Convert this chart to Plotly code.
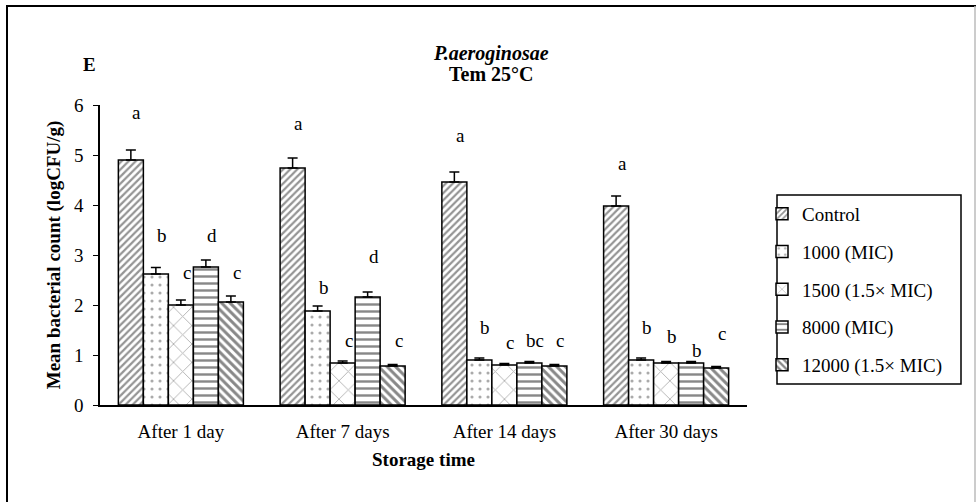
import plotly.graph_objects as go

categories = ["After 1 day", "After 7 days", "After 14 days", "After 30 days"]
series_names = ["Control", "1000 (MIC)", "1500 (1.5× MIC)", "8000 (MIC)", "12000 (1.5× MIC)"]

control = [4.90, 4.74, 4.46, 3.98]
mic1000 = [2.62, 1.88, 0.90, 0.90]
mic1500 = [2.00, 0.84, 0.80, 0.84]
mic8000 = [2.76, 2.16, 0.84, 0.84]
mic12000 = [2.06, 0.78, 0.78, 0.74]

err_control = [0.20, 0.20, 0.20, 0.20]
err_1000 = [0.13, 0.10, 0.04, 0.04]
err_1500 = [0.10, 0.04, 0.03, 0.03]
err_8000 = [0.14, 0.10, 0.03, 0.03]
err_12000 = [0.12, 0.03, 0.03, 0.03]

letters_control = ["a", "a", "a", "a"]
letters_1000 = ["b", "b", "b", "b"]
letters_1500 = ["c", "c", "c", "b"]
letters_8000 = ["d", "d", "bc", "b"]
letters_12000 = ["c", "c", "c", "c"]

letter_y_control = [5.86, 5.64, 5.40, 4.84]
letter_y_1000 = [3.40, 2.36, 1.56, 1.56]
letter_y_1500 = [2.66, 1.30, 1.26, 1.38]
letter_y_8000 = [3.40, 2.98, 1.30, 1.10]
letter_y_12000 = [2.66, 1.30, 1.30, 1.44]

values = [control, mic1000, mic1500, mic8000, mic12000]
errors = [err_control, err_1000, err_1500, err_8000, err_12000]
letters = [letters_control, letters_1000, letters_1500, letters_8000, letters_12000]
letter_ys = [letter_y_control, letter_y_1000, letter_y_1500, letter_y_8000, letter_y_12000]

patterns = [
    dict(shape="/", size=5, solidity=0.45, fgcolor="#2a2a2a", bgcolor="white"),
    dict(shape=".", size=8, solidity=0.12, fgcolor="#555555", bgcolor="white"),
    dict(shape="x", size=13, solidity=0.14, fgcolor="#666666", bgcolor="white"),
    dict(shape="-", size=7, solidity=0.35, fgcolor="#111111", bgcolor="white"),
    dict(shape="\\", size=6, solidity=0.5, fgcolor="#111111", bgcolor="white"),
]

FONT = "Liberation Serif, Times New Roman, serif"

L, R, T, B = 100, 229, 105, 97
W, H = 976, 502
pw, ph = W - L - R, H - T - B

fig = go.Figure()
for i, name in enumerate(series_names):
    fig.add_trace(go.Bar(
        name=name,
        x=categories,
        y=values[i],
        marker=dict(color="white", line=dict(color="black", width=1.5), pattern=patterns[i]),
        error_y=dict(type="data", array=errors[i], arrayminus=[0] * len(errors[i]),
                     symmetric=False, color="black", thickness=1.5, width=5),
        legendgroup=f"g{i}",
    ))

bar_px = pw / len(categories) * (1 - 0.227) / len(series_names)
for i in range(len(series_names)):
    for j, cat in enumerate(categories):
        fig.add_annotation(
            x=cat, y=letter_ys[i][j], text=letters[i][j], showarrow=False,
            xshift=(i - 2) * bar_px + 6, font=dict(family=FONT, size=19, color="black"),
        )

def px_x(px):
    return (px - L) / pw

def px_y(py):
    return (H - B - py) / ph

fig.add_annotation(xref="paper", yref="paper", x=px_x(491), y=px_y(40),
                   text="<b><i>P.aeroginosae</i></b>", showarrow=False,
                   font=dict(family=FONT, size=20, color="black"))
fig.add_annotation(xref="paper", yref="paper", x=px_x(491), y=px_y(61),
                   text="<b>Tem 25°C</b>", showarrow=False,
                   font=dict(family=FONT, size=20, color="black"))
fig.add_annotation(xref="paper", yref="paper", x=px_x(81), y=px_y(52),
                   text="<b>E</b>", showarrow=False,
                   font=dict(family=FONT, size=19, color="black"))

# outer frame
fig.add_shape(type="line", xref="paper", yref="paper", x0=px_x(7), x1=px_x(7),
              y0=px_y(6), y1=px_y(510), line=dict(color="black", width=2))
fig.add_shape(type="line", xref="paper", yref="paper", x0=px_x(6), x1=px_x(980),
              y0=px_y(6), y1=px_y(6), line=dict(color="black", width=2))
fig.add_shape(type="line", xref="paper", yref="paper", x0=px_x(975), x1=px_x(975),
              y0=px_y(6), y1=px_y(510), line=dict(color="#bbbbbb", width=1.5))
# legend box
fig.add_shape(type="rect", xref="paper", yref="paper", x0=px_x(777), x1=px_x(961),
              y0=px_y(195), y1=px_y(384), line=dict(color="black", width=1.5),
              fillcolor="rgba(0,0,0,0)")

fig.update_layout(
    width=W, height=H,
    margin=dict(l=L, r=R, t=T, b=B, autoexpand=False),
    paper_bgcolor="white", plot_bgcolor="white",
    barmode="group", bargap=0.227, bargroupgap=0,
    font=dict(family=FONT, size=19, color="black"),
    showlegend=True,
    legend=dict(
        x=px_x(762), y=px_y(195), xanchor="left", yanchor="top",
        borderwidth=0, bgcolor="rgba(0,0,0,0)",
        font=dict(family=FONT, size=19, color="black"),
        traceorder="grouped", tracegroupgap=10,
        itemwidth=30,
    ),
    xaxis=dict(
        showline=True, linecolor="black", linewidth=1.5,
        ticks="", showgrid=False, ticklabelstandoff=8,
        tickfont=dict(family=FONT, size=19, color="black"),
        title=dict(text="<b>Storage time</b>", font=dict(family=FONT, size=19, color="black"),
                   standoff=12),
    ),
    yaxis=dict(
        range=[0, 6], dtick=1, showline=True, linecolor="black", linewidth=1.5,
        ticks="outside", ticklen=5, tickcolor="black", showgrid=False, zeroline=False,
        ticklabelstandoff=6,
        tickfont=dict(family=FONT, size=19, color="black"),
        title=dict(text="<b>Mean bacterial count (logCFU/g)</b>",
                   font=dict(family=FONT, size=19, color="black"), standoff=8),
    ),
)

fig.write_html("out.html")
